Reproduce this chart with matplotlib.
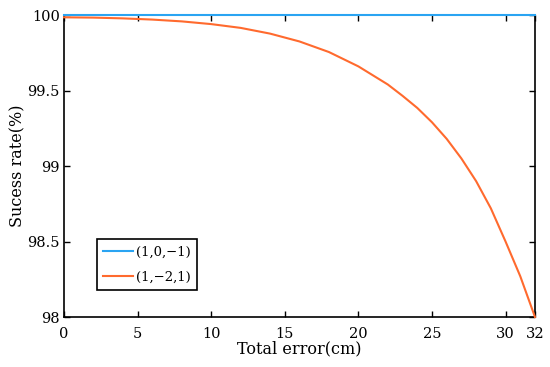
import matplotlib
matplotlib.use('Agg')
import matplotlib.pyplot as plt

# 읽어낸 값들
x_err = [0, 2, 4, 6, 8, 10, 12, 14, 16, 18, 20, 21, 22, 23, 24, 25, 26, 27, 28, 29, 30, 31, 32]
rate_101 = [100.0] * len(x_err)
rate_121 = [99.985, 99.983, 99.978, 99.970, 99.958, 99.940, 99.915, 99.877, 99.825, 99.755,
            99.660, 99.600, 99.540, 99.465, 99.385, 99.290, 99.180, 99.050, 98.900, 98.720,
            98.500, 98.270, 98.000]
x_ticks = [0, 5, 10, 15, 20, 25, 30, 32]
y_ticks = [98, 98.5, 99, 99.5, 100]
y_ticklabels = ['98', '98.5', '99', '99.5', '100']

plt.rcParams['font.family'] = ['DejaVu Serif']

fig = plt.figure(figsize=(5.5, 3.67), dpi=100)
ax = fig.add_axes([0.1164, 0.1362, 0.8563, 0.8228])

ax.plot(x_err, rate_101, color='#2aa4f2', lw=1.5, label='(1,0,\u22121)', clip_on=False, zorder=3)
ax.plot(x_err, rate_121, color='#ff6a2e', lw=1.5, label='(1,\u22122,1)', clip_on=False, zorder=3)

ax.set_xlim(0, 32)
ax.set_ylim(98, 100)
ax.set_xticks(x_ticks)
ax.set_yticks(y_ticks)
ax.set_yticklabels(y_ticklabels)
ax.tick_params(direction='in', top=True, right=True, labelsize=10.5, length=4, width=1)
ax.tick_params(axis='x', pad=7)
ax.tick_params(axis='y', pad=3)
for s in ax.spines.values():
    s.set_linewidth(1.2)
ax.set_xlabel('Total error(cm)', fontsize=11.5, labelpad=0)
ax.set_ylabel('Sucess rate(%)', fontsize=11.5, labelpad=1)

leg = ax.legend(loc='lower left', bbox_to_anchor=(0.07, 0.09), fontsize=9.5, fancybox=False,
                framealpha=1, edgecolor='black', handlelength=2.3, handletextpad=0.2,
                borderpad=0.45, labelspacing=0.95, borderaxespad=0)
leg.get_frame().set_linewidth(1.2)

fig.savefig('out.png', dpi=100)
